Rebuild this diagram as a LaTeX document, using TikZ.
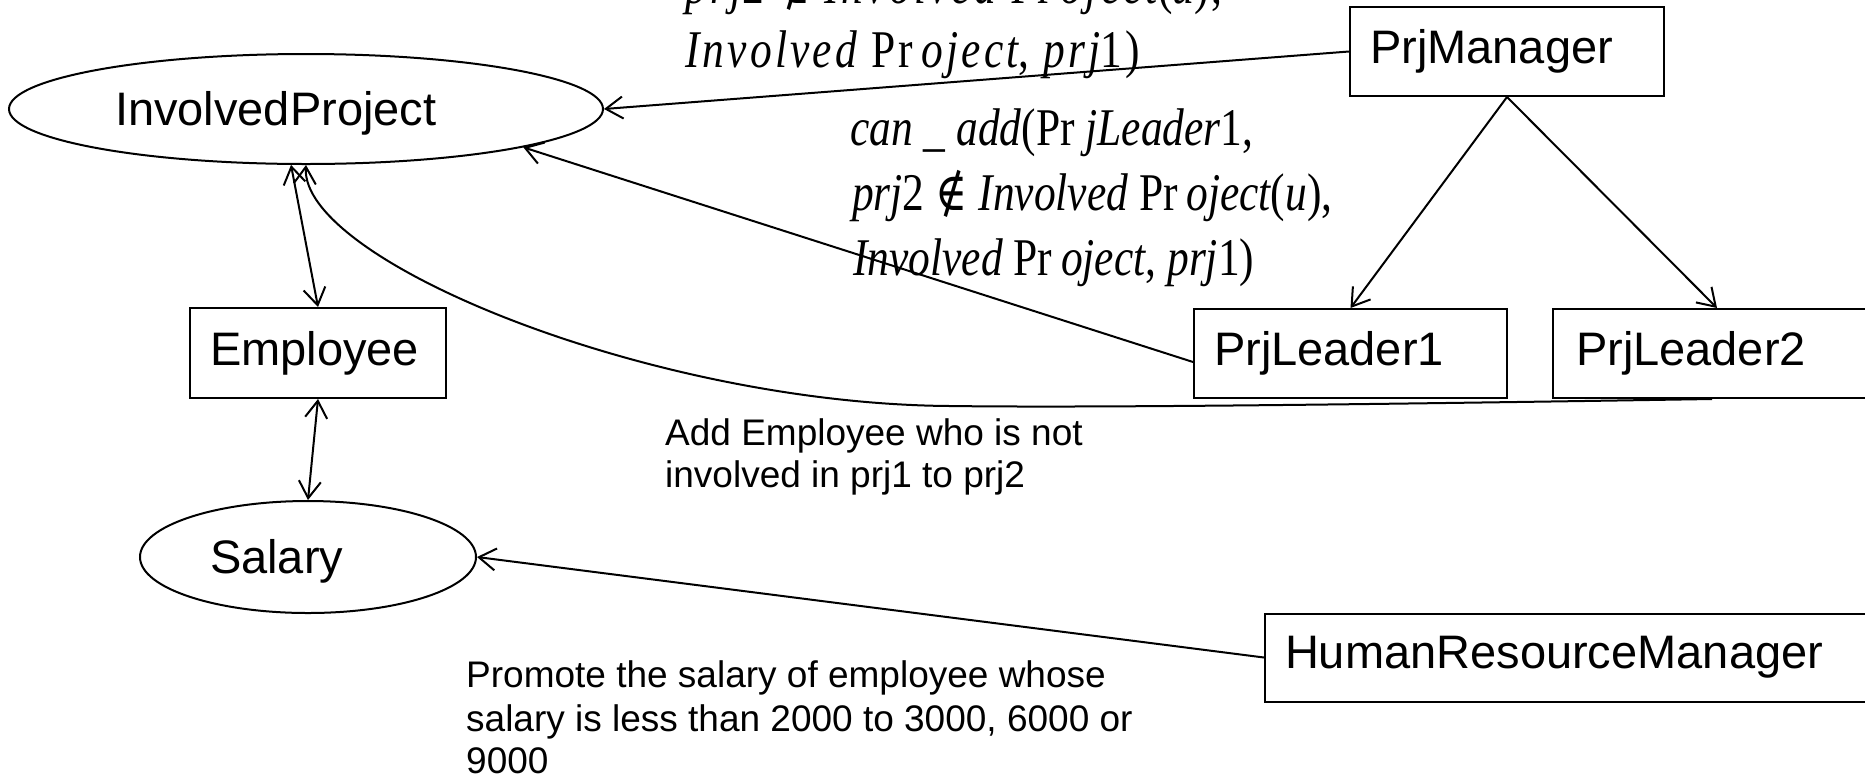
\documentclass[tikz,border=0pt]{standalone}
\usepackage{fontspec}
\setmainfont{Liberation Sans}
\newfontfamily\tms{Liberation Serif}[FakeStretch=0.82]
\newfontfamily\tmsw{Liberation Serif}[FakeStretch=0.82,LetterSpace=6]
\newfontfamily\djv{DejaVu Serif}[FakeStretch=0.82]
\usetikzlibrary{arrows.meta,shapes.geometric}
\tikzset{
  boxnode/.style={draw, rectangle, line width=2pt, inner xsep=20pt, inner ysep=0pt,
    align=left, font=\fontsize{47}{56}\selectfont},
  ellnode/.style={draw, ellipse, line width=2pt, inner sep=0pt, align=left,
    text height=36pt, text depth=4pt, font=\fontsize{47}{56}\selectfont},
  arr/.style={line width=2pt, -{Straight Barb[length=17pt,width=22pt]}},
  dbl/.style={line width=2pt, {Straight Barb[length=17pt,width=22pt]}-{Straight Barb[length=17pt,width=22pt]}},
  lbl/.style={anchor=base west, inner sep=0pt, font=\fontsize{37}{43}\selectfont},
  mth/.style={anchor=base west, inner sep=0pt, font=\tms\fontsize{53}{65}\selectfont},
  mthw/.style={anchor=base west, inner sep=0pt, font=\tmsw\fontsize{53}{65}\selectfont}
}
\begin{document}
\begin{tikzpicture}[x=1pt,y=-1pt]
\useasboundingbox (0,0) rectangle (1865,780);
\fill[white] (0,0) rectangle (1865,780);
\clip (0,0) rectangle (1865,780);

% nodes
\node[ellnode, minimum width=594pt, minimum height=110pt, text width=382pt] (ip) at (306,109) {InvolvedProject};
\node[ellnode, minimum width=336pt, minimum height=112pt, text width=196pt] (sal) at (308,557) {Salary};
\node[boxnode, minimum width=256pt, minimum height=90pt, text width=216pt] (emp) at (318,353) {Employee};
\node[boxnode, minimum width=314pt, minimum height=89pt, text width=274pt] (pm) at (1507,51.5) {PrjManager};
\node[boxnode, minimum width=313pt, minimum height=89pt, text width=273pt] (pl1) at (1350.5,353.5) {PrjLeader1};
\node[boxnode, minimum width=318pt, minimum height=89pt, text width=272pt, inner xsep=23pt] (pl2) at (1712,353.5) {PrjLeader2};
\node[boxnode, minimum width=640pt, minimum height=88pt, text width=600pt] (hrm) at (1585,657.5) {HumanResourceManager};

% labels
\node[mthw] (t1) at (685,3) {{\itshape prj}2 {\djv ∉} {\itshape Involved} Pr\,{\itshape oject}({\itshape u}),};
\node[mthw] (t2) at (685,67) {{\itshape Involved} Pr\,{\itshape oject}, {\itshape prj}1)};
\node[mth] (c1) at (850,145) {{\itshape can \_ add}(Pr {\itshape jLeader}1,};
\node[mth] (c2) at (852,210) {{\itshape prj}2 {\djv ∉} {\itshape Involved} Pr\,{\itshape oject}({\itshape u}),};
\node[mth] (c3) at (853,275) {{\itshape Involved} Pr\,{\itshape oject}, {\itshape prj}1)};

\node[lbl] (a1) at (665,445) {Add Employee who is not};
\node[lbl] (a2) at (665,487) {involved in prj1 to prj2};
\node[lbl] (p1) at (466,687) {Promote the salary of employee whose};
\node[lbl] (p2) at (466,731) {salary is less than 2000 to 3000, 6000 or};
\node[lbl] (p3) at (466,773) {9000};

% connectors
\draw[arr] (pm.west) -- (ip.east);
\draw[arr] ([yshift=-8.5pt]pl1.west) -- (ip.-10.8);
\draw[dbl] (ip.-105) -- (emp.north);
\draw[dbl] (emp.south) -- (sal.north);
\draw[arr] (pl2.south) .. controls (1400,404) and (1100,408) .. (950,406)
  .. controls (650,404) and (300,260) .. (ip.south);
\draw[arr] (pm.south) -- (pl1.north);
\draw[arr] (pm.south) -- ([xshift=5pt]pl2.north);
\draw[arr] (hrm.west) -- (sal.east);
\end{tikzpicture}
\end{document}
